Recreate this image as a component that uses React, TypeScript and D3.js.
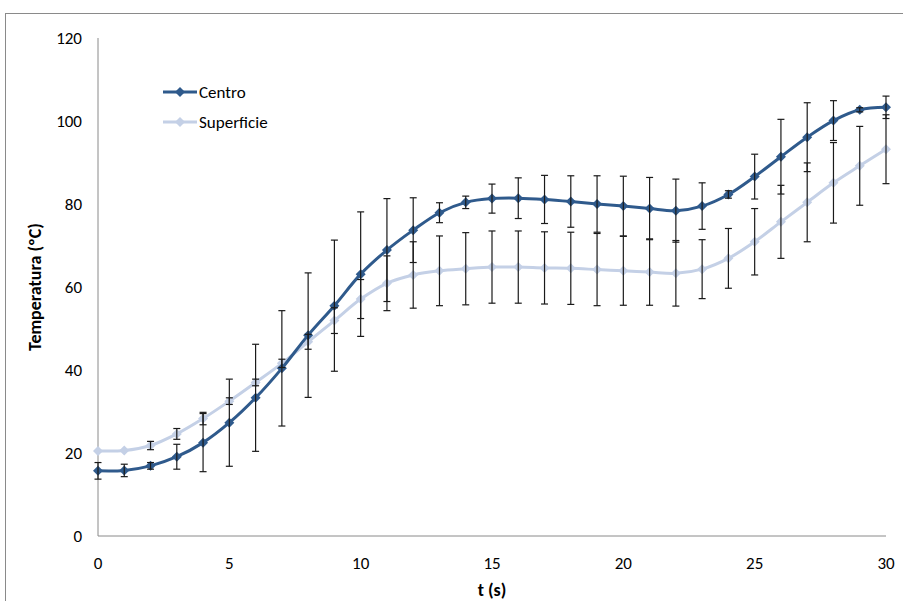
import React from "react";
import * as d3 from "d3";

const times = d3.range(0, 31);
const centro = [15.7, 15.8, 16.9, 19.1, 22.5, 27.3, 33.3, 40.4, 48.4, 55.5, 63.1, 68.9, 73.7, 77.9, 80.4, 81.3, 81.4, 81.1, 80.6, 80.0, 79.5, 78.9, 78.4, 79.5, 82.3, 86.6, 91.4, 96.1, 100.1, 102.7, 103.3];
const centroErr = [2.0, 1.5, 0.8, 3.0, 7.0, 10.5, 12.9, 13.9, 15.0, 15.8, 15.0, 12.4, 7.8, 2.4, 1.5, 3.5, 4.9, 5.8, 6.2, 6.8, 7.2, 7.5, 7.6, 5.6, 0.9, 5.4, 9.0, 8.3, 4.8, 0.5, 2.7];
const superficie = [20.5, 20.6, 21.8, 24.6, 28.3, 32.5, 37.0, 41.6, 46.8, 51.9, 57.1, 60.9, 62.9, 63.9, 64.4, 64.8, 64.8, 64.6, 64.5, 64.2, 63.9, 63.6, 63.3, 64.3, 66.9, 70.9, 75.7, 80.4, 85.1, 89.2, 93.2];
const superErr = [0, 0, 1.0, 1.3, 1.5, 0.8, 0.8, 1.0, 1.8, 3.1, 4.7, 6.6, 8.0, 8.4, 8.7, 8.7, 8.7, 8.7, 8.7, 8.7, 8.3, 8.0, 7.9, 7.1, 7.2, 8.0, 8.8, 9.5, 9.7, 9.5, 8.3];
const xTicks = [0, 5, 10, 15, 20, 25, 30];
const yTicks = [0, 20, 40, 60, 80, 100, 120];

const series = [
  { name: "Centro", values: centro, err: centroErr, color: "#2F5A8C" },
  { name: "Superficie", values: superficie, err: superErr, color: "#C4D0E6" },
];

const FONT = "Carlito, Calibri, 'Liberation Sans', Arial, sans-serif";

export default function App() {
  const W = 903, H = 601;
  const x = d3.scaleLinear().domain([0, 30]).range([98, 886]);
  const y = d3.scaleLinear().domain([0, 120]).range([536, 38]);
  const line = d3
    .line<number>()
    .x((_, i) => x(times[i]))
    .y((d) => y(d))
    .curve(d3.curveCatmullRom.alpha(0.5));
  const diamond = (cx: number, cy: number, r: number) =>
    `M${cx},${cy - r}L${cx + r},${cy}L${cx},${cy + r}L${cx - r},${cy}Z`;
  const cap = 3.5;

  return (
    <svg width={W} height={H} style={{ position: "absolute", left: 0, top: 0, background: "#fff" }}>
      <rect x={5.5} y={13.5} width={1000} height={1000} fill="#fff" stroke="#8a8a8a" strokeWidth={1} />
      <line x1={x(0)} x2={x(0)} y1={y(120)} y2={y(0)} stroke="#8a8a8a" strokeWidth={1} />
      <line x1={x(0)} x2={x(30)} y1={y(0)} y2={y(0)} stroke="#8a8a8a" strokeWidth={1} />
      {yTicks.map((t) => (
        <text key={"y" + t} x={82} y={y(t)} dy="0.35em" textAnchor="end" fontFamily={FONT} fontSize={17} fill="#000">
          {t}
        </text>
      ))}
      {xTicks.map((t) => (
        <text key={"x" + t} x={x(t)} y={563} dy="0.35em" textAnchor="middle" fontFamily={FONT} fontSize={17} fill="#000">
          {t}
        </text>
      ))}
      <text x={492} y={590} dy="0.35em" textAnchor="middle" fontFamily={FONT} fontSize={18} fontWeight="bold">
        t (s)
      </text>
      <text
        transform={`translate(35,${(y(0) + y(120)) / 2}) rotate(-90)`}
        dy="0.35em"
        textAnchor="middle"
        fontFamily={FONT}
        fontSize={18}
        fontWeight="bold"
      >
        Temperatura (ºC)
      </text>
      {[...series].reverse().map((s) => (
        <g key={s.name}>
          <path d={line(s.values) || ""} fill="none" stroke={s.color} strokeWidth={3} />
          {s.values.map((v, i) => (
            <path key={i} d={diamond(x(times[i]), y(v), 5)} fill={s.color} />
          ))}
        </g>
      ))}
      {series.map((s) => (
        <g key={"e" + s.name} stroke="#1a1a1a" strokeWidth={1.2}>
          {s.values.map((v, i) => {
            if (s.err[i] <= 0) return null;
            const cx = x(times[i]);
            const y1 = y(v + s.err[i]);
            const y2 = y(v - s.err[i]);
            return (
              <g key={i}>
                <line x1={cx} x2={cx} y1={y1} y2={y2} />
                <line x1={cx - cap} x2={cx + cap} y1={y1} y2={y1} />
                <line x1={cx - cap} x2={cx + cap} y1={y2} y2={y2} />
              </g>
            );
          })}
        </g>
      ))}
      {series.map((s, i) => {
        const ly = 92 + i * 30;
        return (
          <g key={"l" + s.name}>
            <line x1={163} x2={197} y1={ly} y2={ly} stroke={s.color} strokeWidth={3} />
            <path d={diamond(180, ly, 5)} fill={s.color} />
            <text x={199} y={ly} dy="0.35em" fontFamily={FONT} fontSize={17} fill="#000">
              {s.name}
            </text>
          </g>
        );
      })}
    </svg>
  );
}
